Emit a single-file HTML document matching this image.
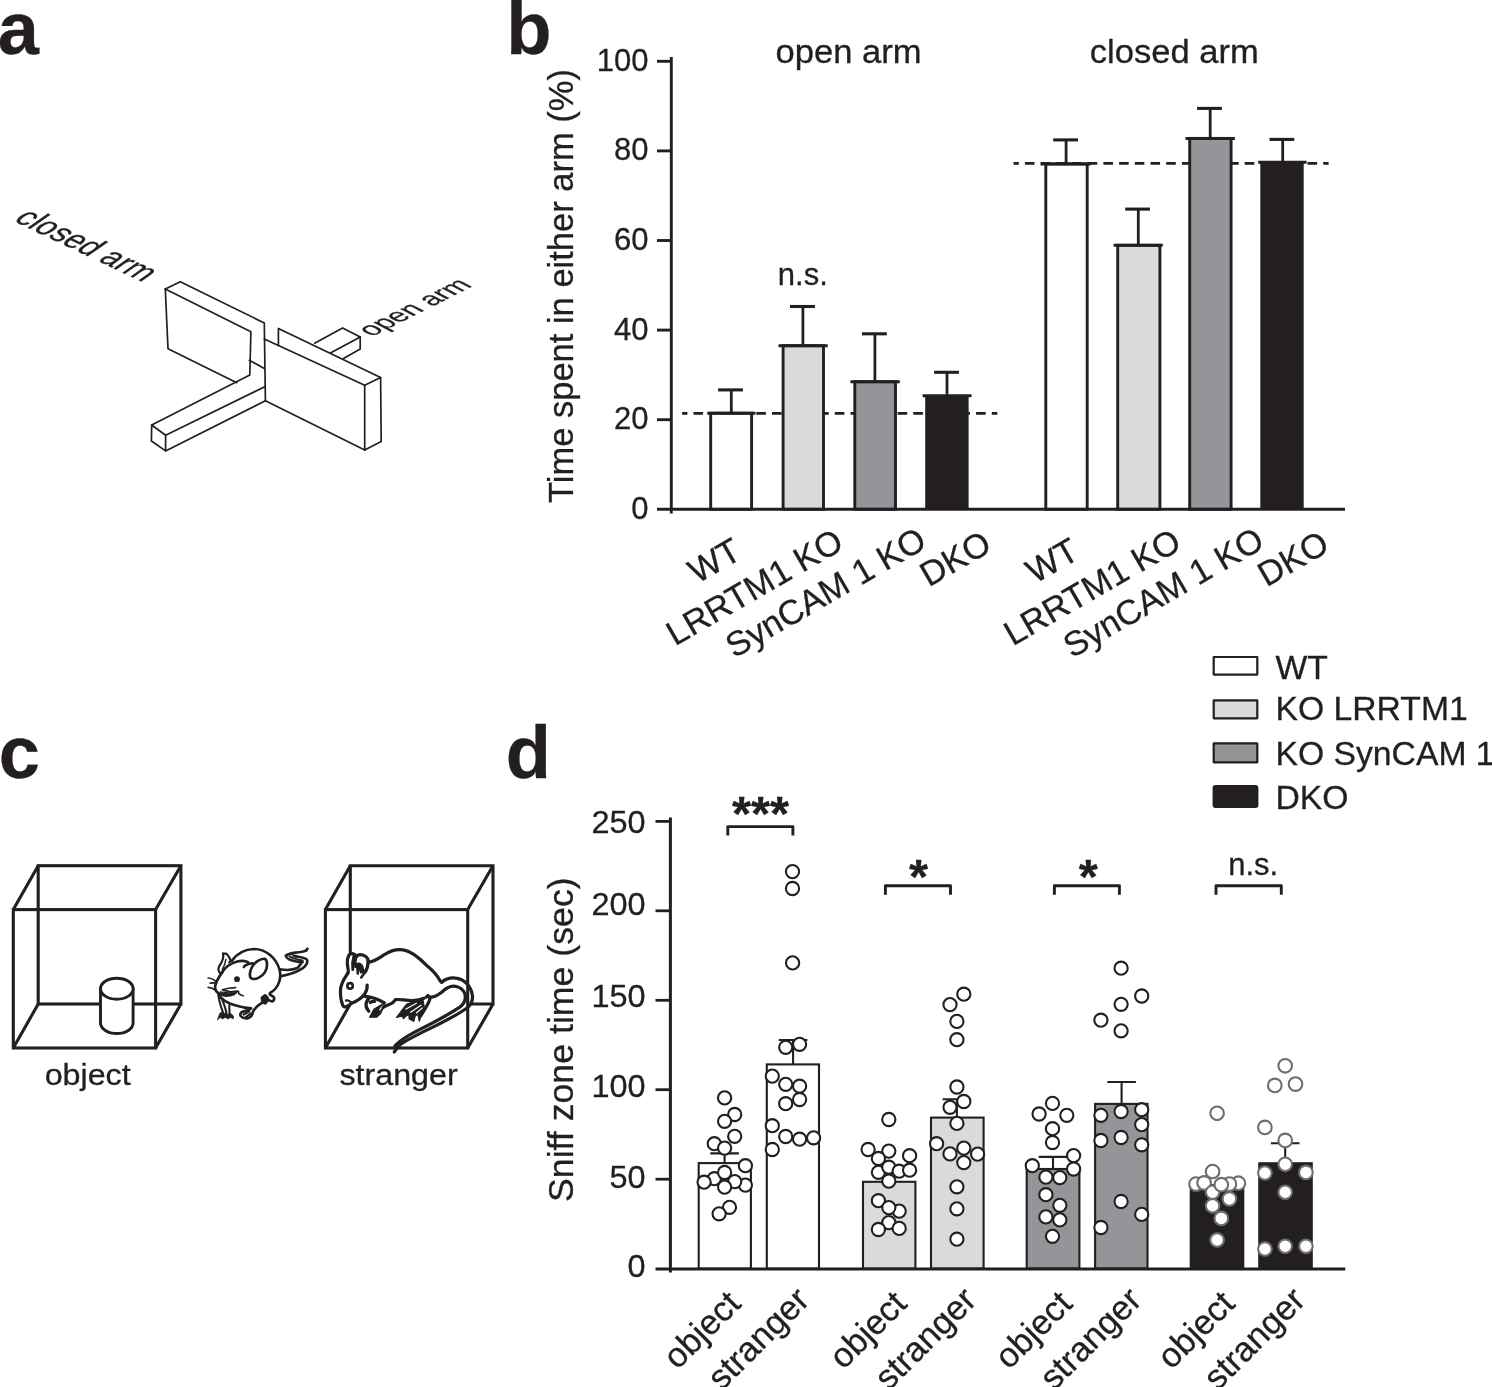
<!DOCTYPE html>
<html lang="en"><head><meta charset="utf-8"><title>Figure</title>
<style>html,body{margin:0;padding:0;background:#fff}svg{display:block}text{font-family:"Liberation Sans", Arial, Helvetica, sans-serif;fill:#231f20;stroke:#231f20;stroke-width:0.3px}</style>
</head><body>
<svg width="1492" height="1387" viewBox="0 0 1492 1387">
<rect width="1492" height="1387" fill="#fff"/>
<text x="-2.2" y="53.8" font-size="74" font-weight="700">a</text>
<text x="506.3" y="53.8" font-size="74" font-weight="700">b</text>
<text x="-1.2" y="778.2" font-size="74" font-weight="700">c</text>
<text x="505.8" y="777.9" font-size="74" font-weight="700">d</text>
<g id="maze" fill="none" stroke="#231f20" stroke-width="1.7" stroke-linejoin="round" stroke-linecap="round">
<path d="M165.3 289 L180.3 281.7 L264.3 323 L265.4 400.8"/>
<path d="M165.3 289 L250.9 331.8 L249.8 374.9 L151.7 425"/>
<path d="M165.3 289 L168 348.7 L236.8 382.7"/>
<path d="M249.3 360.3 L264.3 368.4"/>
<path d="M264.8 386.7 L165.6 435.2"/>
<path d="M265.4 400.8 L165.6 450.9"/>
<path d="M151.7 425 L165.6 435.2 L165.6 450.9 L151.4 441 Z"/>
<path d="M264.3 339.1 L364.7 385.2"/>
<path d="M278.4 345.4 L278.4 328.4 L380.6 377.6"/>
<path d="M364.7 385.2 L380.6 377.6 L381.2 441.5 L364.7 450 Z"/>
<path d="M265.4 400.8 L364.7 450"/>
<path d="M314.6 343.2 L342.6 327.9 L360.2 336.9 L360.2 349 L343.5 358.6"/>
<path d="M360.2 336.9 L330.9 352.8"/>
</g>
<text transform="matrix(0.904,0.427,-0.944,0.666,12.6,220.6)" font-size="29.5">closed arm</text>
<text transform="matrix(0.8934,-0.4493,0.92,0.485,371.8,337)" font-size="26.9">open arm</text>
<g id="chart-b">
<path d="M682.1 413.4 H997.3 M1013.5 163.4 H1328.6" stroke="#231f20" stroke-width="2.6" stroke-dasharray="9.6 6.1" stroke-dashoffset="4.3" fill="none"/>
<rect x="710.7" y="413.2" width="40.9" height="96.1" fill="#fff" stroke="#231f20" stroke-width="2.9"/>
<path d="M707.3 413.2 H755.5" stroke="#231f20" stroke-width="3" fill="none"/>
<path d="M731.3 413.2 V389.9" stroke="#231f20" stroke-width="2.8" fill="none"/>
<path d="M718.1 389.9 H742.9" stroke="#231f20" stroke-width="3.1" fill="none"/>
<rect x="783.1" y="345.7" width="40.4" height="163.6" fill="#d9dadb" stroke="#231f20" stroke-width="2.9"/>
<path d="M778.5 345.7 H827.7" stroke="#231f20" stroke-width="3" fill="none"/>
<path d="M802.9 345.7 V306.5" stroke="#231f20" stroke-width="2.8" fill="none"/>
<path d="M790.0 306.5 H814.9" stroke="#231f20" stroke-width="3.1" fill="none"/>
<rect x="854.8" y="381.7" width="40.7" height="127.6" fill="#939598" stroke="#231f20" stroke-width="2.9"/>
<path d="M850.4 381.7 H899.8" stroke="#231f20" stroke-width="3" fill="none"/>
<path d="M874.9 381.7 V333.8" stroke="#231f20" stroke-width="2.8" fill="none"/>
<path d="M862.0 333.8 H886.8" stroke="#231f20" stroke-width="3.1" fill="none"/>
<rect x="925.2" y="395.8" width="43.4" height="113.5" fill="#231f20"/>
<path d="M922.6 395.8 H971.5" stroke="#231f20" stroke-width="3" fill="none"/>
<path d="M947.0 395.8 V372.3" stroke="#231f20" stroke-width="2.8" fill="none"/>
<path d="M934.1 372.3 H958.9" stroke="#231f20" stroke-width="3.1" fill="none"/>
<rect x="1045.8" y="163.9" width="41.4" height="345.4" fill="#fff" stroke="#231f20" stroke-width="2.9"/>
<path d="M1040.7 163.9 H1090.6" stroke="#231f20" stroke-width="3" fill="none"/>
<path d="M1066.1 163.9 V139.9" stroke="#231f20" stroke-width="2.8" fill="none"/>
<path d="M1053.2 139.9 H1078.0" stroke="#231f20" stroke-width="3.1" fill="none"/>
<rect x="1117.7" y="245.3" width="42.2" height="264.0" fill="#d9dadb" stroke="#231f20" stroke-width="2.9"/>
<path d="M1113.6 245.3 H1162.8" stroke="#231f20" stroke-width="3" fill="none"/>
<path d="M1138.3 245.3 V209.1" stroke="#231f20" stroke-width="2.8" fill="none"/>
<path d="M1125.2 209.1 H1150.0" stroke="#231f20" stroke-width="3.1" fill="none"/>
<rect x="1189.7" y="138.4" width="41.4" height="370.9" fill="#939598" stroke="#231f20" stroke-width="2.9"/>
<path d="M1185.5 138.4 H1234.9" stroke="#231f20" stroke-width="3" fill="none"/>
<path d="M1210.2 138.4 V108.4" stroke="#231f20" stroke-width="2.8" fill="none"/>
<path d="M1197.1 108.4 H1221.9" stroke="#231f20" stroke-width="3.1" fill="none"/>
<rect x="1260.3" y="162.2" width="43.4" height="347.1" fill="#231f20"/>
<path d="M1258.2 162.2 H1306.6" stroke="#231f20" stroke-width="3" fill="none"/>
<path d="M1282.7 162.2 V139.4" stroke="#231f20" stroke-width="2.8" fill="none"/>
<path d="M1269.5 139.4 H1294.3" stroke="#231f20" stroke-width="3.1" fill="none"/>
<path d="M671.3 57 V513.5" stroke="#231f20" stroke-width="2.9" fill="none"/>
<path d="M657 509.3 H1345" stroke="#231f20" stroke-width="2.9" fill="none"/>
<path d="M657 419.7 H671.3" stroke="#231f20" stroke-width="2.9" fill="none"/>
<path d="M657 330.1 H671.3" stroke="#231f20" stroke-width="2.9" fill="none"/>
<path d="M657 240.5 H671.3" stroke="#231f20" stroke-width="2.9" fill="none"/>
<path d="M657 150.9 H671.3" stroke="#231f20" stroke-width="2.9" fill="none"/>
<path d="M657 61.3 H671.3" stroke="#231f20" stroke-width="2.9" fill="none"/>
<text x="648.6" y="518.8" font-size="31" text-anchor="end">0</text>
<text x="648.6" y="429.2" font-size="31" text-anchor="end">20</text>
<text x="648.6" y="339.6" font-size="31" text-anchor="end">40</text>
<text x="648.6" y="250.0" font-size="31" text-anchor="end">60</text>
<text x="648.6" y="160.4" font-size="31" text-anchor="end">80</text>
<text x="648.6" y="70.8" font-size="31" text-anchor="end">100</text>
<text transform="translate(573,503) rotate(-90)" font-size="34.5">Time spent in either arm (%)</text>
<text transform="translate(775.6,62.7) scale(1.07,1)" font-size="32.3">open arm</text>
<text transform="translate(1089.8,62.7) scale(1.07,1)" font-size="32.3">closed arm</text>
<text x="777.8" y="284.7" font-size="31">n.s.</text>
<text transform="translate(743.5,557.5) rotate(-30)" font-size="34.5" text-anchor="end">WT</text>
<text transform="translate(845.5,548) rotate(-30)" font-size="34.5" text-anchor="end">LRRTM1 KO</text>
<text transform="translate(928.5,546.5) rotate(-30)" font-size="34.5" text-anchor="end">SynCAM 1 KO</text>
<text transform="translate(993.5,550) rotate(-30)" font-size="34.5" text-anchor="end">DKO</text>
<text transform="translate(1081.2,557.5) rotate(-30)" font-size="34.5" text-anchor="end">WT</text>
<text transform="translate(1183.2,548) rotate(-30)" font-size="34.5" text-anchor="end">LRRTM1 KO</text>
<text transform="translate(1266.2,546.5) rotate(-30)" font-size="34.5" text-anchor="end">SynCAM 1 KO</text>
<text transform="translate(1331.2,550) rotate(-30)" font-size="34.5" text-anchor="end">DKO</text>
</g>
<g id="panel-c">
<g fill="none" stroke="#231f20" stroke-width="3.1" stroke-linejoin="miter">
<rect x="38.2" y="865.7" width="142.7" height="138.3"/>
<rect x="13.3" y="909.6" width="142.3" height="138.4"/>
<path d="M13.3 909.6 L38.2 865.7 M155.6 909.6 L180.9 865.7 M155.6 1048.0 L180.9 1004.0 M13.3 1048.0 L38.2 1004.0"/>
</g>
<path d="M100.5 988.7 V1023 A16.3 10.5 0 0 0 133.1 1023 V988.7 Z" fill="#fff" stroke="#231f20" stroke-width="2.9"/>
<ellipse cx="116.8" cy="988.7" rx="16.3" ry="10.5" fill="#fff" stroke="#231f20" stroke-width="2.9"/>
<g id="mouse-free" transform="translate(205,945) scale(0.05768)" fill="none" stroke="#231f20" stroke-width="46" stroke-linecap="round" stroke-linejoin="round">
<path d="M465 275 C560 140 700 75 850 70 C1050 70 1230 220 1290 420 C1330 560 1290 740 1130 830 C1105 860 1150 880 1185 895 C1215 930 1190 985 1150 975 C1110 970 1085 935 1045 905"/>
<path d="M985 915 L1040 872 L1080 905 L1085 960 L1045 1012 L1000 992 Z" fill="#231f20"/>
<path d="M1005 990 C930 1040 860 1080 832 1160 C820 1215 790 1262 740 1272 C690 1278 648 1262 620 1232 C600 1200 620 1168 660 1155 C700 1142 760 1130 792 1104"/>
<path d="M672 1205 L765 1148 M705 1255 L795 1185" stroke-width="40"/>
<path d="M240 870 C300 960 400 1010 520 1045 C620 1075 720 1095 800 1100"/>
<path d="M300 470 C250 540 190 640 175 720 C170 780 220 830 262 850 C330 885 420 882 505 850"/>
<path d="M285 495 C330 400 430 320 560 285 C640 265 700 280 742 295 L758 328 L690 360 L672 382"/>
<path d="M758 326 L832 318"/>
<path d="M312 150 L368 150 C400 172 430 232 446 272 L420 302" stroke-width="38"/>
<path d="M312 150 C332 220 300 292 250 360 C220 410 230 470 272 492" stroke-width="38"/>
<path d="M362 250 C356 300 330 372 300 430" stroke-width="26"/>
<path d="M1040 240 C1082 270 1092 380 1040 470 C990 552 880 602 820 585 C760 566 770 470 810 390 C850 310 960 230 1040 240 Z"/>
<circle cx="555" cy="592" r="50" fill="#231f20" stroke="none"/>
<path d="M55 572 C110 575 160 600 195 642 M90 660 L168 655 M55 735 C100 740 140 750 168 778" stroke-width="30"/>
<path d="M300 775 C370 752 450 740 530 738 M320 782 L440 812 L560 800 L585 810 M272 812 C320 852 420 862 540 830 M578 806 C570 842 610 870 660 880" stroke-width="30"/>
<path d="M300 806 L430 820 L500 816 L440 842 L345 846 Z" fill="#231f20" stroke="none"/>
<path d="M232 862 C238 960 272 1060 312 1172 M300 950 C328 1020 358 1100 372 1184 M420 1050 L426 1188" stroke-width="36"/>
<path d="M215 1295 L258 1182 L300 1160 L380 1200 L450 1190 L495 1230 L490 1280 L440 1258 L400 1282 L350 1255 L300 1282 L270 1258 Z" fill="#231f20" stroke-width="12"/>
<path d="M1292 420 C1400 440 1530 432 1602 400 C1650 352 1668 322 1680 298"/>
<path d="M1320 540 C1470 515 1600 465 1690 407 C1760 350 1795 300 1765 250 C1730 222 1630 207 1565 200"/>
<path d="M1777 63 C1760 110 1700 126 1565 132 C1450 150 1392 180 1402 190 C1410 235 1500 272 1627 295 L1692 295"/>
<path d="M1465 195 C1530 240 1620 258 1692 270" stroke-width="34"/>
<path d="M1500 160 L1610 186 L1530 204 Z" fill="#231f20" stroke-width="10"/>
<path d="M1777 63 L1700 118 L1765 112 Z" fill="#231f20" stroke-width="10"/>
</g>
<g fill="none" stroke="#231f20" stroke-width="3.1" stroke-linejoin="miter">
<path d="M350.3 955 V865.7 H493.0 V1004.0 H469.4 M325.4 1048.0 L350.3 1004.0"/>
</g>
<g id="mouse-stranger" transform="translate(335,945) scale(0.06489)" fill="none" stroke="#231f20" stroke-width="50" stroke-linecap="round" stroke-linejoin="round">
<path d="M265 130 L190 200 L190 290 L200 430 L100 560 L85 680 L100 880 L120 935 L180 955 L250 900 L420 810 L470 800 L480 960 L540 1110 L640 1110 L740 960 L900 880 L930 845 L1100 905 L945 1118 L1300 1178 L1375 950 L1465 828 L1435 780 L1645 728 L1885 643 L2010 808 L1925 958 L2025 978 L2120 788 L2005 560 L1885 513 L1645 573 L1625 558 L1405 308 L1050 75 L760 150 L600 265 L510 260 L500 200 L390 150 L310 150 Z" fill="#fff" stroke="none"/>
<path d="M510 262 C600 270 680 200 760 150 C850 90 950 60 1050 75 C1180 95 1300 200 1404 308 C1504 388 1584 478 1624 558 L1644 573"/>
<path d="M1644 573 C1704 523 1804 498 1884 513 C2004 533 2104 648 2119 788 C2124 868 2094 928 2024 978 C1924 1048 1724 1158 1524 1258 C1324 1353 1124 1458 1024 1518 C974 1558 944 1598 914 1648"/>
<path d="M1424 788 C1484 828 1564 788 1644 728 C1724 648 1804 618 1884 643 C1964 663 2014 738 2009 808 C2004 878 1964 928 1924 958 C1724 1088 1524 1193 1324 1293 C1174 1368 1004 1458 924 1558"/>
<path d="M1409 803 L1436 778 M1464 828 C1444 908 1374 1008 1324 1088"/>
<path d="M320 330 C285 220 330 150 392 150 C460 150 520 200 510 262 C510 330 490 380 462 422"/>
<path d="M330 300 C360 280 400 290 420 340 L446 440 L405 500 M342 312 L352 440 M372 332 L402 420" stroke-width="40"/>
<path d="M310 150 L265 130 C220 130 180 190 190 290 C195 350 215 390 200 430"/>
<path d="M290 170 C270 240 265 320 275 380" stroke-width="44"/>
<path d="M200 430 C160 500 100 560 85 680 C80 780 100 880 120 930 C140 972 180 960 250 900 C330 870 420 810 460 750 C490 700 500 660 495 620"/>
<path d="M170 855 C200 850 230 860 245 885" stroke-width="36"/>
<circle cx="232" cy="630" r="62" fill="#231f20" stroke="none"/>
<circle cx="232" cy="630" r="22" fill="#fff" stroke="none"/>
<path d="M460 790 C560 800 680 840 760 890"/>
<path d="M520 830 C470 870 460 960 520 1020 M545 885 C570 870 590 865 610 870"/>
<path d="M535 1112 L600 990 L700 930 L762 898 L745 965 L700 1060 L640 1112 Z" fill="#231f20" stroke-width="20"/>
<path d="M690 1000 C700 980 720 950 740 935" stroke="#fff" stroke-width="18"/>
<path d="M742 962 C800 920 860 920 900 880 L930 842 C1000 830 1100 862 1200 856 C1280 850 1340 832 1372 820"/>
<path d="M1355 833 L1105 908 L945 1118 L1035 1098 L1055 1138 L1095 1098 L1140 1068 L1140 1138 L1215 1178 L1235 1098 L1275 1068 L1300 1178 L1325 1098 L1375 948 Z" fill="#231f20" stroke-width="16"/>
<path d="M1095 988 L1255 898 M1165 1038 L1325 928 M1255 1048 L1345 968" stroke="#fff" stroke-width="18"/>
</g>
<g fill="none" stroke="#231f20" stroke-width="3.1" stroke-linejoin="miter">
<rect x="325.4" y="909.6" width="142.3" height="138.4"/>
<path d="M325.4 909.6 L350.3 865.7 M467.7 909.6 L493.0 865.7 M467.7 1048.0 L493.0 1004.0"/>
</g>
<text transform="translate(44.7,1085.2) scale(1.1,1)" font-size="29.3">object</text>
<text transform="translate(339.5,1085.2) scale(1.1,1)" font-size="29.3">stranger</text>
</g>
<g id="chart-d">
<rect x="698.7" y="1163.1" width="52.2" height="105.5" fill="#fff" stroke="#231f20" stroke-width="2.1"/>
<path d="M724.6 1163.1 V1153.4 M710.3 1153.4 H738.9" stroke="#231f20" stroke-width="2.1" fill="none"/>
<rect x="766.8" y="1064.4" width="52.2" height="204.2" fill="#fff" stroke="#231f20" stroke-width="2.1"/>
<path d="M793.1 1064.4 V1040.0 M778.8 1040.0 H807.4" stroke="#231f20" stroke-width="2.1" fill="none"/>
<rect x="863.0" y="1181.8" width="52.4" height="86.8" fill="#d9dadb" stroke="#231f20" stroke-width="2.1"/>
<path d="M888.8 1181.8 V1172.0 M874.5 1172.0 H903.1" stroke="#231f20" stroke-width="2.1" fill="none"/>
<rect x="931.0" y="1117.6" width="52.6" height="151.0" fill="#d9dadb" stroke="#231f20" stroke-width="2.1"/>
<path d="M956.9 1117.6 V1099.2 M942.6 1099.2 H971.2" stroke="#231f20" stroke-width="2.1" fill="none"/>
<rect x="1026.7" y="1169.0" width="52.7" height="99.6" fill="#939598" stroke="#231f20" stroke-width="2.1"/>
<path d="M1053.0 1169.0 V1156.9 M1038.7 1156.9 H1067.3" stroke="#231f20" stroke-width="2.1" fill="none"/>
<rect x="1095.1" y="1103.9" width="52.4" height="164.7" fill="#939598" stroke="#231f20" stroke-width="2.1"/>
<path d="M1121.6 1103.9 V1082.0 M1107.3 1082.0 H1135.9" stroke="#231f20" stroke-width="2.1" fill="none"/>
<rect x="1189.7" y="1184.1" width="54.6" height="84.5" fill="#231f20"/>
<rect x="1258.2" y="1162.2" width="54.6" height="106.4" fill="#231f20"/>
<path d="M1285.2 1162.2 V1143.2 M1270.9 1143.2 H1299.5" stroke="#231f20" stroke-width="2.1" fill="none"/>
<path d="M670.4 817.6 V1272.6" stroke="#231f20" stroke-width="3" fill="none"/>
<path d="M655.5 1269 H1345.3" stroke="#231f20" stroke-width="3" fill="none"/>
<path d="M655.5 1179.2 H670.4" stroke="#231f20" stroke-width="2.8" fill="none"/>
<path d="M655.5 1089.7 H670.4" stroke="#231f20" stroke-width="2.8" fill="none"/>
<path d="M655.5 1000.3 H670.4" stroke="#231f20" stroke-width="2.8" fill="none"/>
<path d="M655.5 910.8 H670.4" stroke="#231f20" stroke-width="2.8" fill="none"/>
<path d="M655.5 821.4 H670.4" stroke="#231f20" stroke-width="2.8" fill="none"/>
<text transform="translate(645.6,1276.8) scale(1.04,1)" font-size="31.2" text-anchor="end">0</text>
<text transform="translate(645.6,1187.8) scale(1.04,1)" font-size="31.2" text-anchor="end">50</text>
<text transform="translate(645.6,1097.0) scale(1.04,1)" font-size="31.2" text-anchor="end">100</text>
<text transform="translate(645.6,1007.3) scale(1.04,1)" font-size="31.2" text-anchor="end">150</text>
<text transform="translate(645.6,915.1) scale(1.04,1)" font-size="31.2" text-anchor="end">200</text>
<text transform="translate(645.6,833.0) scale(1.04,1)" font-size="31.2" text-anchor="end">250</text>
<g fill="#fff" stroke="#231f20" stroke-width="2.1">
<circle cx="724.6" cy="1097.9" r="6.6"/>
<circle cx="734.7" cy="1114.5" r="6.6"/>
<circle cx="724.6" cy="1121.3" r="6.6"/>
<circle cx="734.7" cy="1136.3" r="6.6"/>
<circle cx="714.3" cy="1143.7" r="6.6"/>
<circle cx="724.6" cy="1148.1" r="6.6"/>
<circle cx="745.4" cy="1165.7" r="6.6"/>
<circle cx="714.3" cy="1178.7" r="6.6"/>
<circle cx="724.6" cy="1172.5" r="6.6"/>
<circle cx="704.1" cy="1182.2" r="6.6"/>
<circle cx="745.4" cy="1185.1" r="6.6"/>
<circle cx="734.7" cy="1181.6" r="6.6"/>
<circle cx="724.6" cy="1187.1" r="6.6"/>
<circle cx="729.5" cy="1207.3" r="6.6"/>
<circle cx="719.1" cy="1213.8" r="6.6"/>
</g>
<g fill="#fff" stroke="#231f20" stroke-width="2.1">
<circle cx="792.5" cy="871.6" r="6.6"/>
<circle cx="792.5" cy="888.5" r="6.6"/>
<circle cx="792.6" cy="962.9" r="6.6"/>
<circle cx="785.7" cy="1047.3" r="6.6"/>
<circle cx="799.6" cy="1044.3" r="6.6"/>
<circle cx="772.3" cy="1076.1" r="6.6"/>
<circle cx="785.7" cy="1084.3" r="6.6"/>
<circle cx="799.6" cy="1086.2" r="6.6"/>
<circle cx="799.6" cy="1099.5" r="6.6"/>
<circle cx="785.7" cy="1103.7" r="6.6"/>
<circle cx="772.3" cy="1125.7" r="6.6"/>
<circle cx="785.7" cy="1136.5" r="6.6"/>
<circle cx="799.6" cy="1139.2" r="6.6"/>
<circle cx="813.6" cy="1137.8" r="6.6"/>
<circle cx="772.3" cy="1149.5" r="6.6"/>
</g>
<g fill="#fff" stroke="#231f20" stroke-width="2.1">
<circle cx="888.8" cy="1119.5" r="6.6"/>
<circle cx="868.1" cy="1149.5" r="6.6"/>
<circle cx="888.8" cy="1151.1" r="6.6"/>
<circle cx="909.6" cy="1155.7" r="6.6"/>
<circle cx="878.4" cy="1158.5" r="6.6"/>
<circle cx="878.4" cy="1172.3" r="6.6"/>
<circle cx="888.8" cy="1167.2" r="6.6"/>
<circle cx="899.2" cy="1171.2" r="6.6"/>
<circle cx="909.6" cy="1170.2" r="6.6"/>
<circle cx="888.8" cy="1181.1" r="6.6"/>
<circle cx="878.4" cy="1200.7" r="6.6"/>
<circle cx="899.2" cy="1211.1" r="6.6"/>
<circle cx="888.8" cy="1207.6" r="6.6"/>
<circle cx="888.8" cy="1222.6" r="6.6"/>
<circle cx="878.4" cy="1229.5" r="6.6"/>
<circle cx="899.2" cy="1228.4" r="6.6"/>
</g>
<g fill="#fff" stroke="#231f20" stroke-width="2.1">
<circle cx="963.8" cy="994.2" r="6.6"/>
<circle cx="950" cy="1004.6" r="6.6"/>
<circle cx="956.9" cy="1021.4" r="6.6"/>
<circle cx="956.9" cy="1039.7" r="6.6"/>
<circle cx="956.9" cy="1087" r="6.6"/>
<circle cx="963.8" cy="1101.5" r="6.6"/>
<circle cx="950" cy="1107.3" r="6.6"/>
<circle cx="956.9" cy="1123.4" r="6.6"/>
<circle cx="936.6" cy="1143.7" r="6.6"/>
<circle cx="963.8" cy="1148.1" r="6.6"/>
<circle cx="950" cy="1153.9" r="6.6"/>
<circle cx="977.6" cy="1154.1" r="6.6"/>
<circle cx="963.8" cy="1162.6" r="6.6"/>
<circle cx="956.9" cy="1186.8" r="6.6"/>
<circle cx="956.9" cy="1208.8" r="6.6"/>
<circle cx="956.9" cy="1239.2" r="6.6"/>
</g>
<g fill="#fff" stroke="#231f20" stroke-width="2.1">
<circle cx="1052.5" cy="1103.4" r="6.6"/>
<circle cx="1039.1" cy="1114" r="6.6"/>
<circle cx="1066.8" cy="1115.3" r="6.6"/>
<circle cx="1052.5" cy="1128.7" r="6.6"/>
<circle cx="1052.5" cy="1142.5" r="6.6"/>
<circle cx="1073.6" cy="1155.6" r="6.6"/>
<circle cx="1032.3" cy="1165.7" r="6.6"/>
<circle cx="1073.6" cy="1169" r="6.6"/>
<circle cx="1045.9" cy="1177.1" r="6.6"/>
<circle cx="1059.8" cy="1177.6" r="6.6"/>
<circle cx="1045.9" cy="1194.7" r="6.6"/>
<circle cx="1059.8" cy="1205.3" r="6.6"/>
<circle cx="1045.9" cy="1216.9" r="6.6"/>
<circle cx="1059.8" cy="1219.9" r="6.6"/>
<circle cx="1052.5" cy="1236.3" r="6.6"/>
</g>
<g fill="#fff" stroke="#231f20" stroke-width="2.1">
<circle cx="1121.1" cy="968.2" r="6.6"/>
<circle cx="1141.7" cy="996" r="6.6"/>
<circle cx="1121.1" cy="1004.3" r="6.6"/>
<circle cx="1100.9" cy="1020.2" r="6.6"/>
<circle cx="1121.1" cy="1030.8" r="6.6"/>
<circle cx="1100.9" cy="1115.3" r="6.6"/>
<circle cx="1121.1" cy="1111.5" r="6.6"/>
<circle cx="1141.7" cy="1109.7" r="6.6"/>
<circle cx="1141.7" cy="1124.6" r="6.6"/>
<circle cx="1100.9" cy="1140.5" r="6.6"/>
<circle cx="1121.1" cy="1137.5" r="6.6"/>
<circle cx="1141.7" cy="1144.8" r="6.6"/>
<circle cx="1121.1" cy="1201.5" r="6.6"/>
<circle cx="1141.7" cy="1214.4" r="6.6"/>
<circle cx="1100.9" cy="1227.5" r="6.6"/>
</g>
<g fill="#fff" stroke="#6d6e71" stroke-width="2.1">
<circle cx="1217.1" cy="1113.3" r="6.8"/>
<circle cx="1212.6" cy="1171.5" r="6.8"/>
<circle cx="1196" cy="1184.1" r="6.8"/>
<circle cx="1204.1" cy="1182.9" r="6.8"/>
<circle cx="1238.4" cy="1183.2" r="6.8"/>
<circle cx="1229.4" cy="1184.1" r="6.8"/>
<circle cx="1212.6" cy="1192.3" r="6.8"/>
<circle cx="1221.3" cy="1184.7" r="6.8"/>
<circle cx="1229.4" cy="1198.9" r="6.8"/>
<circle cx="1212.6" cy="1205.8" r="6.8"/>
<circle cx="1221.3" cy="1218.4" r="6.8"/>
<circle cx="1217.1" cy="1240" r="6.8"/>
</g>
<g fill="#fff" stroke="#6d6e71" stroke-width="2.1">
<circle cx="1285.2" cy="1065.8" r="6.8"/>
<circle cx="1274.8" cy="1085.4" r="6.8"/>
<circle cx="1295.5" cy="1084.1" r="6.8"/>
<circle cx="1264.9" cy="1127.4" r="6.8"/>
<circle cx="1285.2" cy="1140.4" r="6.8"/>
<circle cx="1285.2" cy="1164.3" r="6.8"/>
<circle cx="1264.9" cy="1173" r="6.8"/>
<circle cx="1305.9" cy="1172.4" r="6.8"/>
<circle cx="1285.2" cy="1192.3" r="6.8"/>
<circle cx="1264.9" cy="1249" r="6.8"/>
<circle cx="1285.2" cy="1246.3" r="6.8"/>
<circle cx="1305.9" cy="1246.3" r="6.8"/>
</g>
<text transform="translate(572.8,1202) rotate(-90)" font-size="35.7">Sniff zone time (sec)</text>
<path d="M727.8 835.6 V826.6 H792.9 V835.6" stroke="#231f20" stroke-width="2.9" stroke-linejoin="round" fill="none"/>
<path d="M885.4 894.7 V885.7 H950.5 V894.7" stroke="#231f20" stroke-width="2.9" stroke-linejoin="round" fill="none"/>
<path d="M1054.4 894.7 V885.7 H1119.4 V894.7" stroke="#231f20" stroke-width="2.9" stroke-linejoin="round" fill="none"/>
<path d="M1216 894.7 V885.7 H1281.3 V894.7" stroke="#231f20" stroke-width="2.9" stroke-linejoin="round" fill="none"/>
<text x="760.5" y="829.8" font-size="49" font-weight="700" text-anchor="middle">***</text>
<text x="918.6" y="893.1" font-size="49" font-weight="700" text-anchor="middle">*</text>
<text x="1088.4" y="893.1" font-size="49" font-weight="700" text-anchor="middle">*</text>
<text x="1228.2" y="874.6" font-size="31">n.s.</text>
<text transform="translate(742.6,1305.5) rotate(-45)" font-size="34.5" text-anchor="end">object</text>
<text transform="translate(811.2,1302.0) rotate(-45)" font-size="34.5" text-anchor="end">stranger</text>
<text transform="translate(908.6,1305.5) rotate(-45)" font-size="34.5" text-anchor="end">object</text>
<text transform="translate(978.2,1302.0) rotate(-45)" font-size="34.5" text-anchor="end">stranger</text>
<text transform="translate(1074.1,1305.5) rotate(-45)" font-size="34.5" text-anchor="end">object</text>
<text transform="translate(1143.4,1302.0) rotate(-45)" font-size="34.5" text-anchor="end">stranger</text>
<text transform="translate(1236.6,1305.5) rotate(-45)" font-size="34.5" text-anchor="end">object</text>
<text transform="translate(1307.2,1302.0) rotate(-45)" font-size="34.5" text-anchor="end">stranger</text>
<rect x="1213.7" y="657" width="43.6" height="17.6" fill="#fff" stroke="#231f20" stroke-width="2.2" rx="0.3"/>
<text x="1275.5" y="678.6" font-size="33.7">WT</text>
<rect x="1213.7" y="700.3" width="43.6" height="18.0" fill="#d9dadb" stroke="#231f20" stroke-width="2.2" rx="0.3"/>
<text x="1275.5" y="720.1" font-size="33.7">KO LRRTM1</text>
<rect x="1213.7" y="743.3" width="43.6" height="19.0" fill="#939598" stroke="#231f20" stroke-width="2.2" rx="0.3"/>
<text x="1275.5" y="765.1" font-size="33.7">KO SynCAM 1</text>
<rect x="1213.7" y="786.2" width="43.6" height="20.7" fill="#231f20" stroke="#231f20" stroke-width="2.2" rx="1.8"/>
<text x="1275.5" y="809.2" font-size="33.7">DKO</text>
</g>
</svg></body></html>
